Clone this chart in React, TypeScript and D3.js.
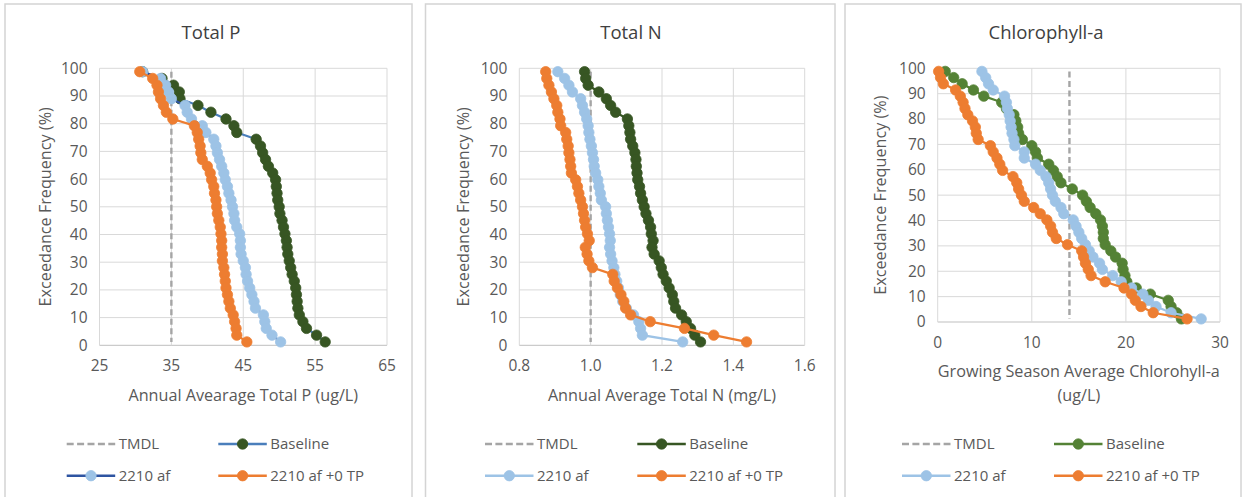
import React from "react";
import * as d3 from "d3";

// ---------- DATA ----------
// Exceedance frequency (%) for each ranked value (41 ranked years)
const exceedance = [
  98.78, 96.34, 93.9, 91.46, 89.02, 86.59, 84.15, 81.71, 79.27, 76.83,
  74.39, 71.95, 69.51, 67.07, 64.63, 62.2, 59.76, 57.32, 54.88, 52.44,
  50.0, 47.56, 45.12, 42.68, 40.24, 37.8, 35.37, 32.93, 30.49, 28.05,
  25.61, 23.17, 20.73, 18.29, 15.85, 13.41, 10.98, 8.54, 6.1, 3.66, 1.22,
];
const tmdlExceedance = [98.78, 1.22];

// Total P (ug/L)
const tpTMDL = 35;
const tpBaseline = [
  31.0, 33.7, 35.3, 36.1, 36.2, 38.7, 40.5, 42.6, 43.7, 44.1,
  46.8, 47.4, 47.7, 48.1, 48.5, 49.1, 49.5, 49.6, 49.7, 49.8,
  50.0, 50.1, 50.4, 50.6, 50.8, 51.0, 51.1, 51.2, 51.4, 51.6,
  51.8, 52.1, 52.3, 52.4, 52.5, 52.6, 52.8, 53.3, 53.8, 55.2, 56.4,
];
const tp2210 = [
  31.0, 33.5, 34.2, 34.6, 35.0, 36.9, 37.2, 37.8, 39.3, 39.8,
  40.9, 41.2, 41.4, 41.7, 42.0, 42.3, 42.5, 42.8, 43.0, 43.3,
  43.5, 43.7, 43.8, 44.1, 44.5, 44.6, 44.6, 44.7, 45.0, 45.3,
  45.4, 45.6, 45.9, 46.2, 46.5, 46.7, 47.8, 48.0, 48.2, 49.0, 50.2,
];
const tp2210ZeroTP = [
  30.6, 32.4, 33.0, 33.2, 33.5, 33.9, 34.3, 35.2, 38.2, 38.6,
  38.8, 39.0, 39.1, 39.3, 40.0, 40.4, 40.6, 40.9, 41.0, 41.2,
  41.3, 41.4, 41.6, 41.8, 41.9, 42.0, 42.0, 42.1, 42.1, 42.3,
  42.4, 42.5, 42.6, 42.8, 43.0, 43.2, 43.6, 43.8, 44.0, 44.1, 45.5,
];
const tpTicks = [25, 35, 45, 55, 65];

// Total N (mg/L)
const tnTMDL = 1.0;
const tnBaseline = [
  0.983, 0.986, 0.993, 1.023, 1.044, 1.056, 1.07, 1.103, 1.107, 1.11,
  1.112, 1.118, 1.124, 1.127, 1.128, 1.13, 1.132, 1.137, 1.14, 1.145,
  1.15, 1.155, 1.162, 1.168, 1.17, 1.175, 1.172, 1.178, 1.192, 1.198,
  1.203, 1.212, 1.22, 1.229, 1.233, 1.238, 1.255, 1.268, 1.28, 1.292, 1.308,
];
const tn2210 = [
  0.908, 0.927, 0.939, 0.949, 0.972, 0.977, 0.983, 0.989, 0.993, 0.995,
  0.998, 1.002, 1.005, 1.008, 1.01, 1.014, 1.02, 1.023, 1.027, 1.03,
  1.042, 1.044, 1.047, 1.05, 1.053, 1.055, 1.053, 1.056, 1.06, 1.065,
  1.068, 1.073, 1.078, 1.083, 1.09, 1.1, 1.12, 1.135, 1.14, 1.145, 1.258,
];
const tn2210ZeroTP = [
  0.874, 0.877, 0.883, 0.89, 0.897, 0.905, 0.908, 0.914, 0.916, 0.93,
  0.933, 0.937, 0.939, 0.942, 0.944, 0.946, 0.958, 0.963, 0.967, 0.972,
  0.977, 0.98, 0.983, 0.986, 0.991, 0.996, 0.985, 0.99, 0.995, 1.005,
  1.062, 1.066, 1.075, 1.085, 1.093, 1.098, 1.112, 1.167, 1.263, 1.345, 1.437,
];
const tnTicks = [0.8, 1.0, 1.2, 1.4, 1.6];

// Chlorophyll-a (ug/L)
const chlTMDL = 14;
const chlBaseline = [
  0.8, 1.7, 2.6, 3.8, 4.9, 6.8, 7.3, 8.1, 8.3, 8.5,
  8.6, 9.0, 10.0, 10.4, 10.6, 11.8, 12.3, 12.7, 13.1, 14.3,
  15.4, 15.8, 16.2, 16.8, 17.3, 17.5, 17.6, 17.6, 17.8, 18.4,
  18.9, 19.6, 19.7, 19.9, 20.1, 21.1, 22.6, 24.5, 24.8, 25.4, 25.9,
];
const chl2210 = [
  4.7, 5.1, 5.4, 5.9, 7.1, 7.3, 7.4, 7.6, 7.7, 7.8,
  7.9, 8.1, 8.2, 9.2, 9.2, 10.4, 10.9, 11.5, 11.8, 12.0,
  12.2, 12.5, 13.1, 13.4, 14.4, 14.7, 15.0, 15.3, 15.7, 16.1,
  16.5, 17.2, 17.5, 18.6, 19.5, 20.6, 21.8, 22.4, 23.2, 24.8, 28.0,
];
const chl2210ZeroTP = [
  0.1, 0.3, 0.6, 1.9, 2.4, 2.7, 2.9, 3.2, 3.7, 4.0,
  4.1, 4.3, 5.6, 5.9, 6.3, 6.6, 6.9, 8.0, 8.4, 8.6,
  8.9, 9.2, 10.2, 10.9, 11.6, 12.0, 12.2, 12.6, 13.8, 15.3,
  15.5, 15.7, 16.0, 16.3, 17.8, 19.8, 20.6, 21.0, 21.6, 22.9, 26.5,
];
const chlTicks = [0, 10, 20, 30];

const yTicks = [0, 10, 20, 30, 40, 50, 60, 70, 80, 90, 100];
const seriesNames = ["TMDL", "Baseline", "2210 af", "2210 af +0 TP"];

// ---------- STYLE / LAYOUT ----------
const FONT = "'Open Sans', 'Noto Sans', sans-serif";
const TXT = "#595959";
const GRID = "#D9D9D9";
const TMDL_COLOR = "#A5A5A5";
const LIGHT_BLUE = "#9DC3E6";
const ORANGE = "#ED7D31";

type Series = { name: string; values: number[]; line: string; marker: string };

type PanelDef = {
  title: string;
  xTitle: string[];
  frame: [number, number, number];
  plot: { left: number; right: number; top: number; bottom: number };
  ticks: number[];
  fmt: (v: number) => string;
  tmdl: number;
  series: Series[];
  yTitleX: number;
  titleX: number;
  legendX: [number, number];
};

const panels: PanelDef[] = [
  {
    title: "Total P",
    xTitle: ["Annual Avearage Total P (ug/L)"],
    frame: [5, 412, 4],
    plot: { left: 99.5, right: 387, top: 68.3, bottom: 345.3 },
    ticks: tpTicks,
    fmt: (v) => String(v),
    tmdl: tpTMDL,
    series: [
      { name: seriesNames[1], values: tpBaseline, line: "#4A7EBB", marker: "#375623" },
      { name: seriesNames[2], values: tp2210, line: "#2E54A1", marker: LIGHT_BLUE },
      { name: seriesNames[3], values: tp2210ZeroTP, line: ORANGE, marker: ORANGE },
    ],
    yTitleX: 45,
    titleX: 211,
    legendX: [66.7, 218.3],
  },
  {
    title: "Total N",
    xTitle: ["Annual Average Total N (mg/L)"],
    frame: [425.5, 835, 4],
    plot: { left: 519.3, right: 804.7, top: 68.3, bottom: 345.3 },
    ticks: tnTicks,
    fmt: (v) => v.toFixed(1),
    tmdl: tnTMDL,
    series: [
      { name: seriesNames[1], values: tnBaseline, line: "#375623", marker: "#375623" },
      { name: seriesNames[2], values: tn2210, line: LIGHT_BLUE, marker: LIGHT_BLUE },
      { name: seriesNames[3], values: tn2210ZeroTP, line: ORANGE, marker: ORANGE },
    ],
    yTitleX: 463,
    titleX: 631,
    legendX: [485, 637.3],
  },
  {
    title: "Chlorophyll-a",
    xTitle: ["Growing Season Average Chlorohyll-a", "(ug/L)"],
    frame: [845, 1241, 4],
    plot: { left: 937.7, right: 1220, top: 68.3, bottom: 322 },
    ticks: chlTicks,
    fmt: (v) => String(v),
    tmdl: chlTMDL,
    series: [
      { name: seriesNames[1], values: chlBaseline, line: "#548235", marker: "#548235" },
      { name: seriesNames[2], values: chl2210, line: LIGHT_BLUE, marker: LIGHT_BLUE },
      { name: seriesNames[3], values: chl2210ZeroTP, line: ORANGE, marker: ORANGE },
    ],
    yTitleX: 880,
    titleX: 1046,
    legendX: [902, 1054],
  },
];

const R = 5.2;
const TICK_FS = 15.5;
const AXT_FS = 16.2;
const LEG_FS = 15;

function Panel({ p }: { p: PanelDef }) {
  const { plot } = p;
  const x = d3
    .scaleLinear()
    .domain([p.ticks[0], p.ticks[p.ticks.length - 1]])
    .range([plot.left, plot.right]);
  const y = d3.scaleLinear().domain([0, 100]).range([plot.bottom, plot.top]);
  const line = d3
    .line<[number, number]>()
    .x((d) => x(d[0]))
    .y((d) => y(d[1]));
  const tmdlPts: [number, number][] = tmdlExceedance.map((e) => [p.tmdl, e]);
  const yMid = (plot.top + plot.bottom) / 2;
  const legRows = [444, 475.7];
  const legItems = [
    { name: seriesNames[0], row: 0, col: 0, dash: true, line: TMDL_COLOR, marker: "" },
    { name: p.series[0].name, row: 0, col: 1, dash: false, line: p.series[0].line, marker: p.series[0].marker },
    { name: p.series[1].name, row: 1, col: 0, dash: false, line: p.series[1].line, marker: p.series[1].marker },
    { name: p.series[2].name, row: 1, col: 1, dash: false, line: p.series[2].line, marker: p.series[2].marker },
  ];
  const xTitleY = p.xTitle.length > 1 ? [371.5, 395] : [395];
  const xTickY = plot.bottom + 20.5;
  return (
    <g>
      <rect
        x={p.frame[0]}
        y={p.frame[2]}
        width={p.frame[1] - p.frame[0]}
        height={520}
        fill="#fff"
        stroke="#D4D4D4"
        strokeWidth={1.5}
      />
      <text x={p.titleX} y={39} textAnchor="middle" fontSize={18.5} fill="#404040" fontFamily={FONT}>
        {p.title}
      </text>
      {/* grid */}
      {yTicks.map((t) => (
        <line key={"gy" + t} x1={plot.left} x2={plot.right} y1={y(t)} y2={y(t)} stroke={t === 0 ? "#BFBFBF" : GRID} strokeWidth={1} />
      ))}
      {p.ticks.map((t) => (
        <line key={"gx" + t} x1={x(t)} x2={x(t)} y1={plot.top} y2={plot.bottom} stroke={GRID} strokeWidth={1} />
      ))}
      {/* tick labels */}
      {yTicks.map((t) => (
        <text key={"ty" + t} x={plot.left - 12} y={y(t)} dy="0.35em" textAnchor="end" fontSize={TICK_FS} fill={TXT} fontFamily={FONT}>
          {t}
        </text>
      ))}
      {p.ticks.map((t) => (
        <text key={"tx" + t} x={x(t)} y={xTickY} dy="0.35em" textAnchor="middle" fontSize={TICK_FS} fill={TXT} fontFamily={FONT}>
          {p.fmt(t)}
        </text>
      ))}
      {/* axis titles */}
      <text
        transform={`translate(${p.yTitleX},${yMid}) rotate(-90)`}
        textAnchor="middle"
        dy="0.35em"
        fontSize={AXT_FS}
        fill={TXT}
        fontFamily={FONT}
      >
        Exceedance Frequency (%)
      </text>
      {p.xTitle.map((t, i) => (
        <text key={"xt" + i} x={(plot.left + plot.right) / 2} y={xTitleY[i]} dy="0.35em" textAnchor="middle" fontSize={AXT_FS} fill={TXT} fontFamily={FONT}>
          {t}
        </text>
      ))}
      {/* TMDL */}
      <path d={line(tmdlPts) || ""} fill="none" stroke={TMDL_COLOR} strokeWidth={2.4} strokeDasharray="6,3.5" />
      {/* series */}
      {p.series.map((s, si) => {
        const pts: [number, number][] = s.values.map((v, i) => [v, exceedance[i]]);
        return (
          <g key={"s" + si}>
            <path d={line(pts) || ""} fill="none" stroke={s.line} strokeWidth={2.2} />
            {pts.map((d, i) => (
              <circle key={i} cx={x(d[0])} cy={y(d[1])} r={R} fill={s.marker} stroke={s.marker} strokeWidth={0.8} />
            ))}
          </g>
        );
      })}
      {/* legend */}
      {legItems.map((it, i) => {
        const x0 = p.legendX[it.col];
        const yy = legRows[it.row];
        return (
          <g key={"lg" + i}>
            <line
              x1={x0}
              x2={x0 + 48.5}
              y1={yy}
              y2={yy}
              stroke={it.line}
              strokeWidth={2.4}
              strokeDasharray={it.dash ? "7,3.4" : undefined}
            />
            {!it.dash && <circle cx={x0 + 24.3} cy={yy} r={R} fill={it.marker} stroke={it.marker} strokeWidth={0.8} />}
            <text x={x0 + 52} y={yy} dy="0.35em" fontSize={LEG_FS} fill={TXT} fontFamily={FONT}>
              {it.name}
            </text>
          </g>
        );
      })}
    </g>
  );
}

export default function App() {
  return (
    <svg
      width={1243}
      height={497}
      style={{ position: "absolute", left: 0, top: 0, background: "#fff" }}
    >
      <rect x={0} y={0} width={1243} height={497} fill="#fff" />
      {panels.map((p, i) => (
        <Panel key={i} p={p} />
      ))}
    </svg>
  );
}
